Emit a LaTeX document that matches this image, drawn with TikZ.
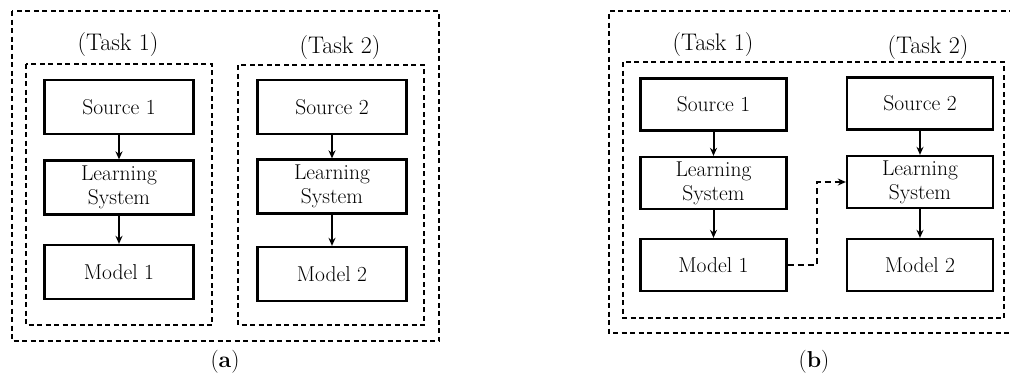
\documentclass[tikz,border=0pt]{standalone}
\usepackage{fontspec}
\usetikzlibrary{arrows.meta,calc}
\begin{document}
\begin{tikzpicture}[x=1pt,y=-1pt,
  box/.style={draw,line width=2.3pt,inner sep=0pt,align=center,
    font=\fontsize{21.5}{24}\selectfont},
  boxa/.style={box,minimum width=149pt,minimum height=54pt},
  boxb/.style={box,minimum width=146pt,minimum height=52pt},
  frame/.style={draw,line width=1.5pt,dash pattern=on 5pt off 3.5pt},
  flow/.style={draw,line width=2pt,-{Stealth[length=8pt,width=7pt]}},
  dflow/.style={flow,dash pattern=on 6pt off 4pt},
  tasklbl/.style={font=\fontsize{24}{28}\selectfont,inner sep=0pt},
  caplbl/.style={font=\fontsize{23}{27}\selectfont,inner sep=0pt}]
\useasboundingbox (0,0) rectangle (1010,376);
% ---- panel (a) ----
\path[frame] (12,11) rectangle (439,341);
\path[frame] (26,64) rectangle (212,325);
\path[frame] (238,65) rectangle (424,325);
\node[tasklbl] (ta1) at (118,45) {(Task 1)};
\node[tasklbl] (ta2) at (340,48) {(Task 2)};
\node[boxa] (S1a) at (119,107) {Source 1};
\node[boxa] (L1a) at (119,187.5) {Learning\\System};
\node[boxa] (M1a) at (119,272) {Model 1};
\node[boxa] (S2a) at (332,107) {Source 2};
\node[boxa] (L2a) at (332,186.5) {Learning\\System};
\node[boxa] (M2a) at (332,274) {Model 2};
\path[flow] (S1a) -- (L1a);
\path[flow] (L1a) -- (M1a);
\path[flow] (S2a) -- (L2a);
\path[flow] (L2a) -- (M2a);
\node[caplbl] (capa) at (225,362) {(\textbf{a})};
% ---- panel (b) ----
\path[frame] (1014,11) -- (609,11) -- (609,333) -- (1014,333);
\path[frame] (623,62) rectangle (1004,318);
\node[tasklbl] (tb1) at (713,45) {(Task 1)};
\node[tasklbl] (tb2) at (928,48) {(Task 2)};
\node[boxb] (S1b) at (713.5,104.5) {Source 1};
\node[boxb] (L1b) at (713.5,183) {Learning\\System};
\node[boxb] (M1b) at (713.5,265) {Model 1};
\node[boxb] (S2b) at (920,103.5) {Source 2};
\node[boxb] (L2b) at (920,182) {Learning\\System};
\node[boxb] (M2b) at (920,265) {Model 2};
\path[flow] (S1b) -- (L1b);
\path[flow] (L1b) -- (M1b);
\path[flow] (S2b) -- (L2b);
\path[flow] (L2b) -- (M2b);
\coordinate (turn) at (817,182);
\path[dflow] (M1b.east) -| (turn) -- (L2b.west);
\node[caplbl] (capb) at (814,362) {(\textbf{b})};
\end{tikzpicture}
\end{document}
